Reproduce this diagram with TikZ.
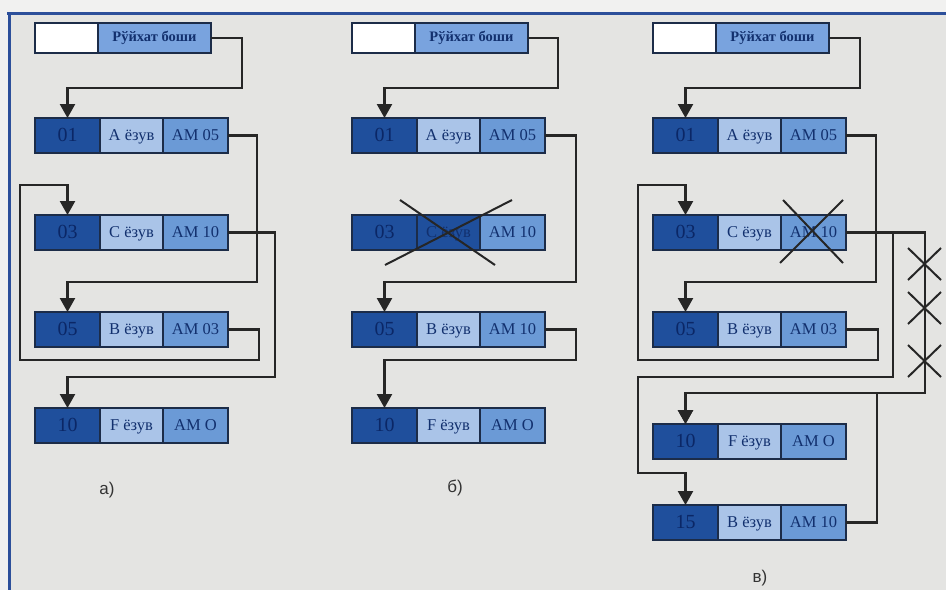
\documentclass[tikz,border=0pt]{standalone}
\usepackage{fontspec}
\setmainfont{Liberation Serif}
\newfontfamily\labfont{Liberation Sans}
\usetikzlibrary{arrows.meta}
\definecolor{bg}{HTML}{E4E4E2}
\definecolor{topbg}{HTML}{F1F1F0}
\definecolor{frame}{HTML}{2C4F9A}
\definecolor{dkblue}{HTML}{1F4F9C}
\definecolor{ltblue}{HTML}{AAC4E8}
\definecolor{mdblue}{HTML}{6B9AD6}
\definecolor{hdblue}{HTML}{79A3DE}
\definecolor{edge}{HTML}{1C2C48}
\definecolor{txt}{HTML}{12306E}
\definecolor{numtxt}{HTML}{0B2766}
\definecolor{lnk}{HTML}{262626}
\definecolor{labc}{HTML}{333333}
\tikzset{
 cell/.style={draw=edge, line width=1.6pt, inner sep=0pt, outer sep=0pt, minimum height=35pt, anchor=north west, text=txt},
 numcell/.style={cell, fill=dkblue, minimum width=65pt, text=numtxt, text height=13pt, text depth=1pt, font=\fontsize{20}{20}\selectfont},
 midcell/.style={cell, fill=ltblue, minimum width=63pt, text height=12pt, text depth=3pt, font=\fontsize{16.5}{17}\selectfont},
 ptrcell/.style={cell, fill=mdblue, minimum width=65pt, text height=12pt, text depth=3pt, font=\fontsize{16.5}{17}\selectfont},
 headw/.style={cell, fill=white, minimum width=63pt, minimum height=30pt},
 headb/.style={cell, fill=hdblue, minimum width=113pt, minimum height=30pt, font=\bfseries\fontsize{14.5}{15}\selectfont},
 conn/.style={draw=lnk, line width=2.4pt, -{Triangle[length=14pt,width=15pt]}},
 xmark/.style={draw=lnk, line width=2pt},
 lab/.style={font=\labfont\fontsize{17}{17}\selectfont, text=labc}
}
\newcommand\recnode[7]{%
 \node[numcell] (#1n) at (#2,#3) {#4};
 \node[midcell,#7] (#1m) at (#1n.north east) {#5};
 \node[ptrcell] (#1p) at (#1m.north east) {#6};}
\newcommand\headnode[3]{%
 \node[headw] (#1w) at (#2,#3) {};
 \node[headb] (#1b) at (#1w.north east) {Рўйхат боши};}
\begin{document}
\begin{tikzpicture}[x=1pt,y=-1pt]
\useasboundingbox (0,0) rectangle (946,590);
\fill[topbg] (0,0) rectangle (946,590);
\fill[bg] (9,13) rectangle (946,590);
\draw[frame, line width=3pt] (7,13) -- (946,13);
\draw[frame, line width=3pt] (9,13) -- (9,590);

% ---------- a) ----------
\headnode{ah}{35}{23}
\recnode{a1}{35}{118}{01}{А ёзув}{АМ 05}{}
\recnode{a3}{35}{215}{03}{С ёзув}{АМ 10}{}
\recnode{a5}{35}{312}{05}{В ёзув}{АМ 03}{}
\recnode{a10}{35}{408}{10}{F ёзув}{АМ О}{}
\draw[conn] (ahb.east) -| (242,88) -| (a1n.north);
\draw[conn] (a1p.east) -| (257,282) -| (a5n.north);
\draw[conn] (a5p.east) -| (259,360) -| (20,185) -| (a3n.north);
\draw[conn] (a3p.east) -| (275,377) -| (a10n.north);
\node[lab] (la) at (107,490) {а)};

% ---------- b) ----------
\headnode{bh}{352}{23}
\recnode{b1}{352}{118}{01}{А ёзув}{АМ 05}{}
\recnode{b3}{352}{215}{03}{С ёзув}{АМ 10}{fill=dkblue}
\recnode{b5}{352}{312}{05}{В ёзув}{АМ 10}{}
\recnode{b10}{352}{408}{10}{F ёзув}{АМ О}{}
\draw[conn] (bhb.east) -| (558,88) -| (b1n.north);
\draw[conn] (b1p.east) -| (576,282) -| (b5n.north);
\draw[conn] (b5p.east) -| (576,360) -| (b10n.north);
\draw[xmark] (385,265) -- (512,200);
\draw[xmark] (400,200) -- (495,265);
\node[lab] (lb) at (455,488) {б)};

% ---------- в) ----------
\headnode{ch}{653}{23}
\recnode{c1}{653}{118}{01}{А ёзув}{АМ 05}{}
\recnode{c3}{653}{215}{03}{С ёзув}{АМ 10}{}
\recnode{c5}{653}{312}{05}{В ёзув}{АМ 03}{}
\recnode{c10}{653}{424}{10}{F ёзув}{АМ О}{}
\recnode{c15}{653}{505}{15}{В ёзув}{АМ 10}{}
\draw[conn] (chb.east) -| (860,88) -| (c1n.north);
\draw[conn] (c1p.east) -| (876,282) -| (c5n.north);
\draw[conn] (c5p.east) -| (878,360) -| (638,185) -| (c3n.north);
\draw[conn] (c3p.east) -| (925,393) -| (c10n.north);
\draw[conn] (c3p.east) -| (893,377) -| (638,473) -| (c15n.north);
\draw[conn] (c15p.east) -| (877,393) -| (c10n.north);
\draw[xmark] (783,200) -- (843,263);
\draw[xmark] (843,200) -- (780,263);
\foreach \yy in {264,308,361}{
  \draw[xmark] (908,\yy-16) -- (941,\yy+16);
  \draw[xmark] (941,\yy-16) -- (908,\yy+16);
}
\node[lab] (lc) at (760,578) {в)};
\end{tikzpicture}
\end{document}
